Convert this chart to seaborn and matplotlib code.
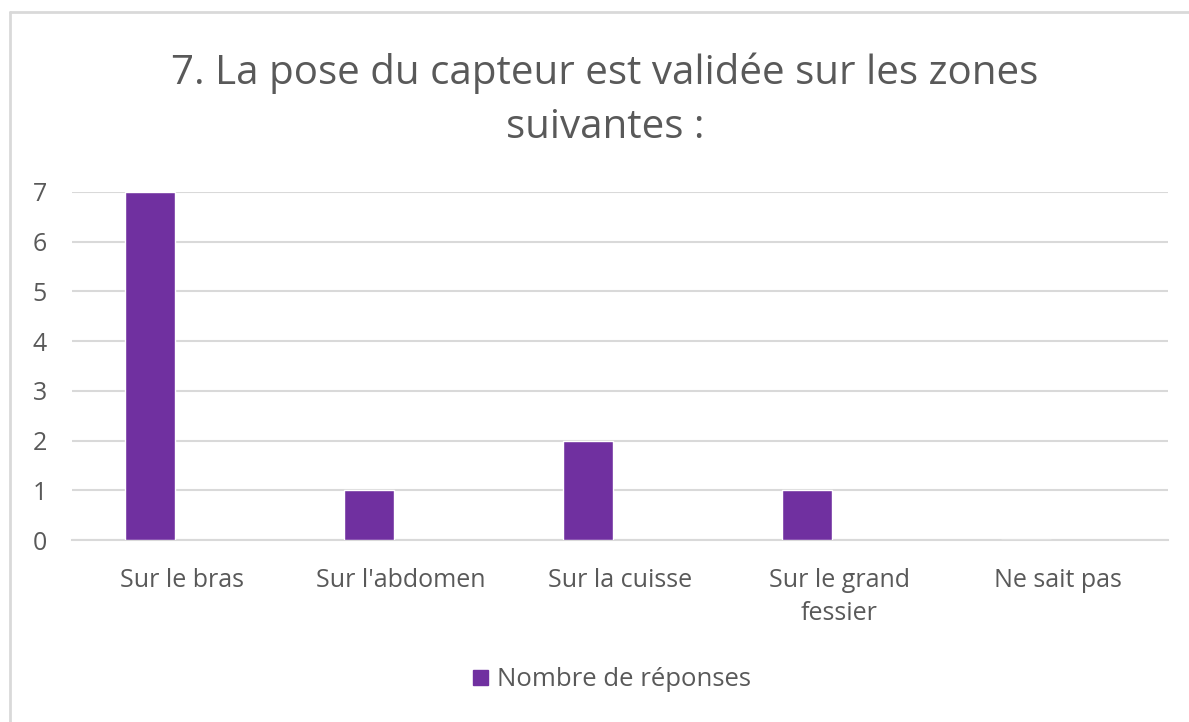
import matplotlib
matplotlib.use("Agg")
import matplotlib.pyplot as plt
import matplotlib.transforms as mtransforms
from matplotlib.lines import Line2D
from matplotlib.patches import Patch
import seaborn as sns
import pandas as pd

categories = ["Sur le bras", "Sur l'abdomen", "Sur la cuisse", "Sur le grand\nfessier", "Ne sait pas"]
responses = [7, 1, 2, 1, 0]
series_name = "Nombre de réponses"
title = "7. La pose du capteur est validée sur les zones\nsuivantes :"
y_ticks = [0, 1, 2, 3, 4, 5, 6, 7]

sns.set_theme(style="white")
plt.rcParams["font.family"] = ["Open Sans", "DejaVu Sans"]

text_color = "#595959"
grid_color = "#D9D9D9"
bar_color = "#7030A0"

df = pd.DataFrame({"zone": categories, "n": responses})

W, H = 1189, 722
fig = plt.figure(figsize=(W / 100, H / 100), dpi=100)
ax = fig.add_axes([72 / W, 1 - 540 / H, (1168 - 72) / W, (540 - 192) / H])

sns.barplot(data=df, x="zone", y="n", color=bar_color, width=0.23,
            saturation=1, ax=ax, zorder=3)

# bars sit left of the category centre, as in a clustered layout
ax.set_xlim(-(150 - 72) / 219, (1168 - 150) / 219)
ax.set_ylim(0, 7)
ax.set_yticks(y_ticks)
ax.yaxis.grid(True, color=grid_color, linewidth=1.5, zorder=0)
ax.set_axisbelow(True)
for s in ["top", "right", "left"]:
    ax.spines[s].set_visible(False)
ax.spines["bottom"].set_color(grid_color)
ax.spines["bottom"].set_linewidth(1.5)
ax.set_xlabel("")
ax.set_ylabel("")
ax.tick_params(axis="both", length=0, labelsize=18, labelcolor=text_color)
ax.tick_params(axis="y", pad=18)
ax.tick_params(axis="x", pad=20)

shift = mtransforms.ScaledTranslation(32 / 100, 0, fig.dpi_scale_trans)
for lbl in ax.get_xticklabels():
    lbl.set_transform(lbl.get_transform() + shift)
    lbl.set_linespacing(1.45)

fig.text(605 / W, 1 - 100 / H, title, ha="center", va="center",
         fontsize=29, color=text_color, linespacing=1.45)

handles = [Patch(facecolor=bar_color, edgecolor=bar_color, label=series_name)]
fig.legend(handles=handles, loc="center", bbox_to_anchor=(612 / W, 1 - 680 / H),
           frameon=False, fontsize=18.5, labelcolor=text_color,
           handlelength=0.55, handleheight=0.55, handletextpad=0.35)

# chart frame
frame = "#D9D9D9"
fig.add_artist(Line2D([10 / W, 1], [1 - 12 / H, 1 - 12 / H],
                      transform=fig.transFigure, color=frame, linewidth=2))
fig.add_artist(Line2D([10 / W, 10 / W], [0, 1 - 12 / H],
                      transform=fig.transFigure, color=frame, linewidth=2))

fig.savefig("out.png", dpi=100, facecolor="white")
